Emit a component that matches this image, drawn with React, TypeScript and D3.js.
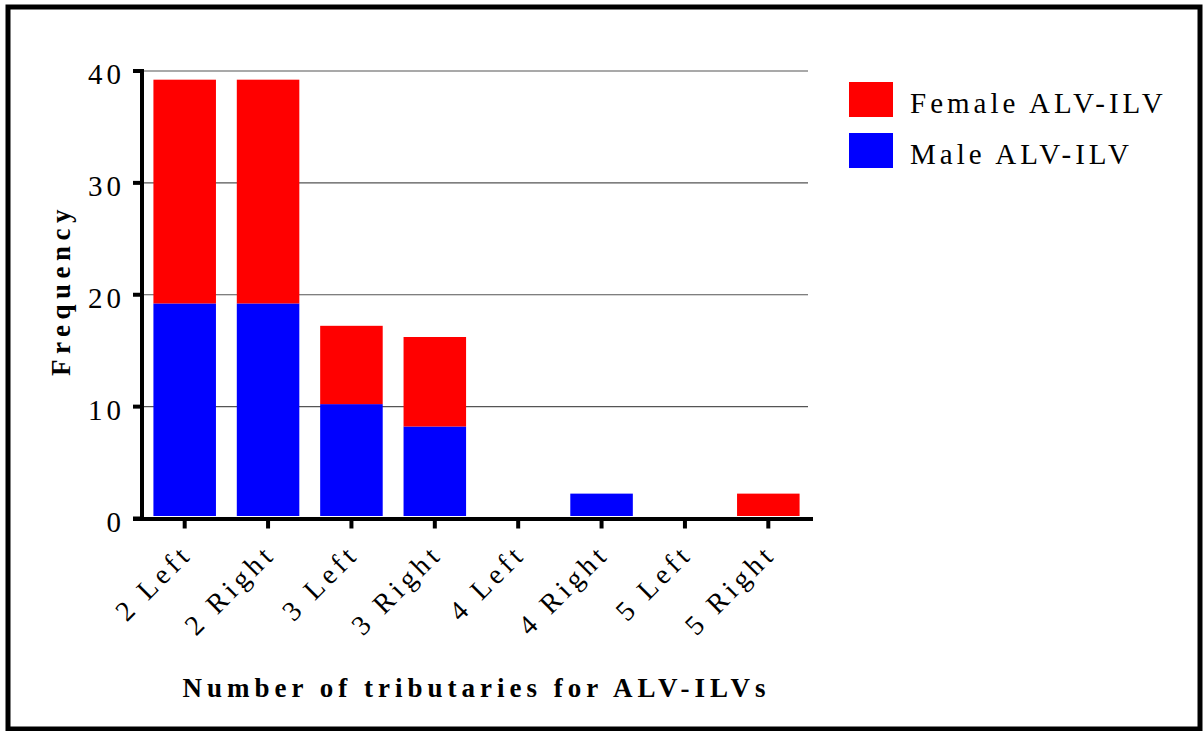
import * as d3 from 'd3';
import { useEffect, useRef } from 'react';

const categories = ['2 Left', '2 Right', '3 Left', '3 Right', '4 Left', '4 Right', '5 Left', '5 Right'];
const maleValues = [19, 19, 10, 8, 0, 2, 0, 0];
const femaleValues = [20, 20, 7, 8, 0, 0, 0, 2];
const yTicks = [0, 10, 20, 30, 40];
const seriesNames = ['Female ALV-ILV', 'Male ALV-ILV'];
const seriesColors = ['#ff0000', '#0000ff'];

const FONT = "'Times New Roman', 'Liberation Serif', Tinos, Times, serif";

export default function App() {
  const ref = useRef<SVGSVGElement>(null);

  useEffect(() => {
    if (!ref.current) return;
    const svg = d3.select(ref.current);
    svg.selectAll('*').remove();

    const left = 143,
      right = 810,
      bottom = 518.5,
      top = 71;
    const lift = 2.5; // bars sit on top of the thick axis line

    const x = d3.scaleBand().domain(categories).range([left, right]).paddingInner(0.25).paddingOuter(0.125);
    const y = d3.scaleLinear().domain([0, 40]).range([bottom, top]);

    // frame
    svg
      .append('rect')
      .attr('x', 8)
      .attr('y', 7)
      .attr('width', 1192)
      .attr('height', 722)
      .attr('fill', 'none')
      .attr('stroke', '#000')
      .attr('stroke-width', 5);

    // grid
    svg
      .append('g')
      .selectAll('line')
      .data(yTicks.filter((t) => t > 0))
      .join('line')
      .attr('x1', 144)
      .attr('x2', 808)
      .attr('y1', (d) => y(d))
      .attr('y2', (d) => y(d))
      .attr('stroke', '#555')
      .attr('stroke-width', 1.2);

    const stacked = categories.map((c, i) => ({ c, male: maleValues[i], female: femaleValues[i] }));

    // male (bottom)
    svg
      .append('g')
      .selectAll('rect')
      .data(stacked.filter((d) => d.male > 0))
      .join('rect')
      .attr('x', (d) => x(d.c) ?? 0)
      .attr('width', x.bandwidth())
      .attr('y', (d) => y(d.male) - lift)
      .attr('height', (d) => y(0) - y(d.male))
      .attr('fill', seriesColors[1]);

    // female (top)
    svg
      .append('g')
      .selectAll('rect')
      .data(stacked.filter((d) => d.female > 0))
      .join('rect')
      .attr('x', (d) => x(d.c) ?? 0)
      .attr('width', x.bandwidth())
      .attr('y', (d) => y(d.male + d.female) - lift)
      .attr('height', (d) => y(d.male) - y(d.male + d.female))
      .attr('fill', seriesColors[0]);

    // y axis
    svg.append('line').attr('x1', 142).attr('x2', 142).attr('y1', top - 2).attr('y2', bottom + 2.5).attr('stroke', '#000').attr('stroke-width', 4);
    const yt = svg.append('g');
    yt.selectAll('line')
      .data(yTicks)
      .join('line')
      .attr('x1', 133)
      .attr('x2', 142)
      .attr('y1', (d) => y(d))
      .attr('y2', (d) => y(d))
      .attr('stroke', '#000')
      .attr('stroke-width', 4);
    yt.selectAll('text')
      .data(yTicks)
      .join('text')
      .attr('x', 125)
      .attr('y', (d) => y(d) + 13)
      .attr('text-anchor', 'end')
      .attr('font-family', FONT)
      .attr('font-size', 29)
      .attr('letter-spacing', 4)
      .text((d) => d);

    // x axis
    svg.append('line').attr('x1', 133).attr('x2', 813).attr('y1', bottom + 0.5).attr('y2', bottom + 0.5).attr('stroke', '#000').attr('stroke-width', 4);
    const xt = svg.append('g');
    xt.selectAll('line')
      .data(categories)
      .join('line')
      .attr('x1', (d) => (x(d) ?? 0) + x.bandwidth() / 2)
      .attr('x2', (d) => (x(d) ?? 0) + x.bandwidth() / 2)
      .attr('y1', bottom)
      .attr('y2', bottom + 10)
      .attr('stroke', '#000')
      .attr('stroke-width', 4);
    xt.selectAll('text')
      .data(categories)
      .join('text')
      .attr('transform', (d) => `translate(${(x(d) ?? 0) + x.bandwidth() / 2 + 9},${bottom + 37}) rotate(-45)`)
      .attr('text-anchor', 'end')
      .attr('font-family', FONT)
      .attr('font-size', 28)
      .attr('letter-spacing', 4.5)
      .text((d) => d);

    // axis titles
    svg
      .append('text')
      .attr('x', (left + right) / 2)
      .attr('y', 697)
      .attr('text-anchor', 'middle')
      .attr('font-family', FONT)
      .attr('font-weight', 'bold')
      .attr('font-size', 27)
      .attr('letter-spacing', 5)
      .text('Number of tributaries for ALV-ILVs');
    svg
      .append('text')
      .attr('transform', `translate(70,290) rotate(-90)`)
      .attr('text-anchor', 'middle')
      .attr('font-family', FONT)
      .attr('font-weight', 'bold')
      .attr('font-size', 27)
      .attr('letter-spacing', 5.5)
      .text('Frequency');

    // legend
    const lg = svg.append('g');
    seriesNames.forEach((name, i) => {
      lg.append('rect')
        .attr('x', 849)
        .attr('y', 82 + i * 51)
        .attr('width', 44)
        .attr('height', 35)
        .attr('fill', seriesColors[i]);
      lg.append('text')
        .attr('x', 910)
        .attr('y', 113 + i * 51)
        .attr('font-family', FONT)
        .attr('font-size', 29)
        .attr('letter-spacing', 4)
        .text(name);
    });
  }, []);

  return (
    <svg
      ref={ref}
      width={1203}
      height={731}
      style={{ position: 'absolute', left: 0, top: 0, background: '#fff' }}
    />
  );
}
